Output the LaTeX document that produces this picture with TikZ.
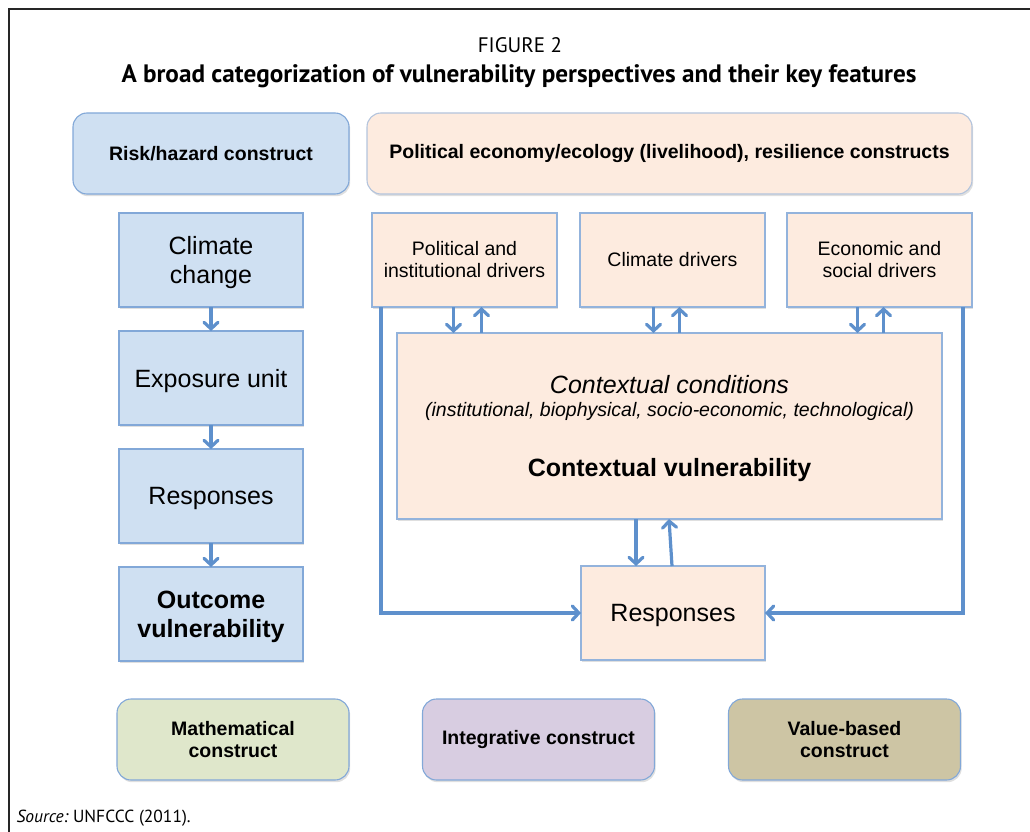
\documentclass[tikz,border=0pt]{standalone}
\usepackage{fontspec}
\setmainfont{Liberation Sans}
\newfontfamily\capfont{PT Sans}
\usetikzlibrary{positioning,arrows.meta,shadows}

\definecolor{riskfill}{HTML}{CFE0F2}
\definecolor{riskline}{HTML}{82A8D8}
\definecolor{polfill}{HTML}{FDEBDF}
\definecolor{polline}{HTML}{93B3DC}
\definecolor{mathfill}{HTML}{DFE7CB}
\definecolor{intfill}{HTML}{D8CDE1}
\definecolor{valfill}{HTML}{CDC5A4}
\definecolor{flowblue}{HTML}{5E90CC}

\begin{document}
\begin{tikzpicture}[
    x=1pt, y=-1pt,
    % general settings
    node distance=24pt,
    align=center,
    % nodes
    base/.style={rectangle, inner sep=0pt, outer sep=0pt, line width=1.1pt,
                 drop shadow={opacity=0.25, shadow xshift=1.2pt, shadow yshift=-2.2pt}},
    header/.style={base, rounded corners=14pt, minimum height=81pt,
                   font=\fontsize{19.5}{22}\selectfont\bfseries},
    riskhead/.style={header, fill=riskfill, draw=riskline, minimum width=276pt},
    polhead/.style={header, fill=polfill, draw=polline!70!polfill, minimum width=605pt},
    riskbox/.style={base, fill=riskfill, draw=riskline, minimum width=184pt, minimum height=94pt,
                    text depth=0pt, font=\fontsize{25}{29}\selectfont},
    driver/.style={base, fill=polfill, draw=polline, minimum width=185pt, minimum height=94pt,
                   font=\fontsize{19.5}{22}\selectfont},
    polbox/.style={base, fill=polfill, draw=polline},
    ctxtext/.style={font=\fontsize{25}{29}\selectfont},
    construct/.style={header, draw=riskline, minimum width=232pt},
    % arrows
    flow/.style={draw=flowblue, line width=3.2pt,
                 -{Straight Barb[length=6.5pt,width=14pt,line cap=round]}}
  ]

  \useasboundingbox (0,0) rectangle (1030,832);

  % frame
  \draw[line width=2pt, black!85] (9,832) -- (9,9) -- (1030,9);

  \node (fig)   at (520,45) {\capfont\fontsize{21}{24}\selectfont FIGURE 2};
  \node (title) at (519,76) {\capfont\fontsize{25.2}{28}\selectfont\bfseries
                             A broad categorization of vulnerability perspectives and their key features};

  % headers
  \node (riskhead) [riskhead] at (211,153.5)   {Risk/hazard construct};
  \node (polhead)  [polhead]  at (669.5,153.5) {Political economy/ecology (livelihood), resilience constructs};

  % risk/hazard column
  \node (climchange) [riskbox] at (211,260)        {Climate\\change};
  \node (exposure)   [riskbox, below=of climchange] {Exposure unit};
  \node (riskresp)   [riskbox, below=of exposure]   {Responses};
  \node (outcome)    [riskbox, below=of riskresp]   {\bfseries Outcome\\\bfseries vulnerability};

  % drivers
  \node (polit) [driver] at (464.5,260)              {Political and\\institutional drivers};
  \node (clim)  [driver, right=23pt of polit]       {Climate drivers};
  \node (econ)  [driver, right=22pt of clim]        {Economic and\\social drivers};

  \node (ctx)  [polbox, minimum width=545pt, minimum height=186pt] at (669.5,426) {};
  \node (ctxcond) [ctxtext, font=\fontsize{25}{29}\selectfont\itshape] at ([yshift=-52pt]ctx.north)
                  {Contextual conditions};
  \node (ctxkind) [ctxtext, font=\fontsize{19.5}{22}\selectfont\itshape] at ([yshift=-78pt]ctx.north)
                  {(institutional, biophysical, socio-economic, technological)};
  \node (ctxvuln) [ctxtext, font=\fontsize{25}{29}\selectfont\bfseries] at ([yshift=-137pt]ctx.north)
                  {Contextual vulnerability};

  \node (resp) [polbox, minimum width=184pt, minimum height=94pt, text depth=0pt,
                font=\fontsize{25}{29}\selectfont] at (673,613) {Responses};

  % bottom constructs
  \node (math)  [construct, fill=mathfill] at (233,739.5)   {Mathematical\\construct};
  \node (integ) [construct, fill=intfill]  at (538.5,739.5) {Integrative construct};
  \node (value) [construct, fill=valfill]  at (844.5,739.5) {Value-based\\construct};

  \node (source) [anchor=west] at (13,818)
        {\capfont\fontsize{17.5}{20}\selectfont\itshape Source:\upshape\ UNFCCC (2011).};

  % arrows
  \draw[flow] (climchange) -- (exposure);
  \draw[flow] (exposure)   -- (riskresp);
  \draw[flow] (riskresp)   -- (outcome);

  \foreach \n/\dx/\ux in {polit/-11/17, clim/-19/7, econ/-22/4} {
    \draw[flow] ([xshift=\dx pt]\n.south) -- ([xshift=\dx pt]\n.south |- ctx.north);
    \draw[flow] ([xshift=\ux pt]\n.south |- ctx.north) -- ([xshift=\ux pt]\n.south);
  }

  \draw[flow] ([xshift=-37pt]resp.north |- ctx.south) -- ([xshift=-37pt]resp.north);
  \draw[flow] ([xshift=-1pt]resp.north) -- ([xshift=-4pt]resp.north |- ctx.south);

  \coordinate (lcorner) at ([xshift=9pt]polit.south west |- resp.west);
  \coordinate (rcorner) at ([xshift=-9pt]econ.south east |- resp.east);
  \draw[flow] (polit.south -| lcorner) -- (lcorner) -- (resp.west);
  \draw[flow] (econ.south -| rcorner) -- (rcorner) -- (resp.east);
\end{tikzpicture}
\end{document}
